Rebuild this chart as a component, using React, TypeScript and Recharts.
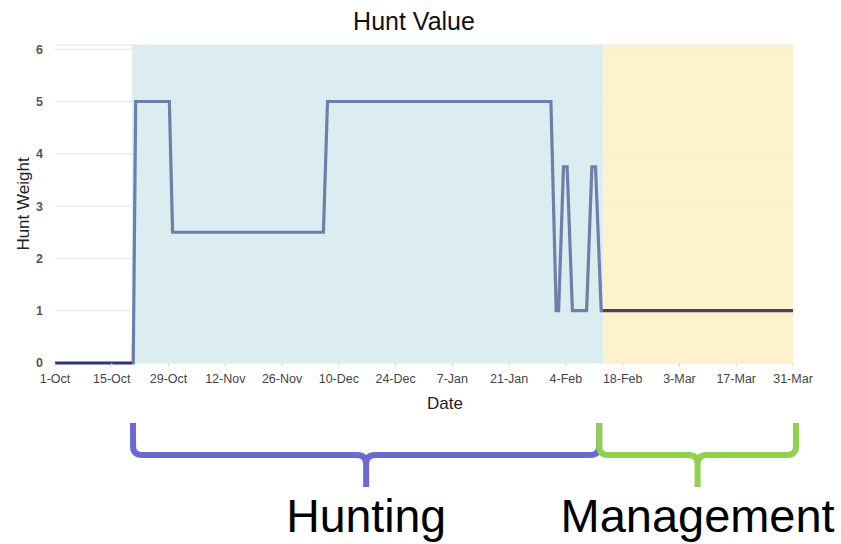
import { CartesianGrid, Line, LineChart, ReferenceArea, XAxis, YAxis } from "recharts";

const tickLabels = ["1-Oct", "15-Oct", "29-Oct", "12-Nov", "26-Nov", "10-Dec", "24-Dec", "7-Jan", "21-Jan", "4-Feb", "18-Feb", "3-Mar", "17-Mar", "31-Mar"];
const dayOffsets = [0, 19.3, 19.9, 28.2, 29, 66.2, 67.2, 122.3, 123.6, 124.2, 125.4, 126.3, 127.6, 131.1, 132.4, 133.3, 134.7, 182];
const huntWeights = [0, 0, 5, 5, 2.5, 2.5, 5, 5, 1, 1, 3.75, 3.75, 1, 1, 3.75, 3.75, 1, 1];
const weightTicks = [0, 1, 2, 3, 4, 5, 6];

const seasonNames = ["Hunting", "Management"];
const seasonStarts = [19, 135.2];
const seasonEnds = [135.2, 182];
const seasonFills = ["#d6eaee", "#feeec6"];
const braceColors = ["#6b6bcf", "#92d050"];

const data = dayOffsets.map((day, i) => ({ day, weight: huntWeights[i] }));

const W = 841;
const H = 544;
const CHART_H = 420;
const PLOT_LEFT = 55;
const PLOT_RIGHT = 793;
const LAST_DAY = 182;
const FONT = '"Liberation Sans", Arial, sans-serif';

// pixel position of a day along the x axis (same range as the chart plot area)
const xOf = (day: number) => PLOT_LEFT + (day / LAST_DAY) * (PLOT_RIGHT - PLOT_LEFT);

function bracePath(x1: number, x2: number) {
  const top = 423;
  const mid = 455;
  const tip = 487;
  const r = 9;
  const m = (x1 + x2) / 2;
  return [
    `M${x1} ${top}`,
    `L${x1} ${mid - r}`,
    `Q${x1} ${mid} ${x1 + r} ${mid}`,
    `L${m - r} ${mid}`,
    `Q${m} ${mid} ${m} ${mid + r}`,
    `L${m} ${tip}`,
    `L${m} ${mid + r}`,
    `Q${m} ${mid} ${m + r} ${mid}`,
    `L${x2 - r} ${mid}`,
    `Q${x2} ${mid} ${x2} ${mid - r}`,
    `L${x2} ${top}`,
  ].join(" ");
}

export default function App() {
  const braceSpans = [
    [xOf(seasonStarts[0]) + 1, xOf(seasonEnds[0]) - 4],
    [xOf(seasonStarts[1]) - 4, xOf(seasonEnds[1]) + 3],
  ];
  const textWidths = [160, 274];

  return (
    <div style={{ position: "absolute", left: 0, top: 0, width: W, height: H, background: "#fff", fontFamily: FONT }}>
      <LineChart width={W} height={CHART_H} data={data} margin={{ top: 45, right: W - PLOT_RIGHT, left: 0, bottom: 0 }}>
        <defs>
          <linearGradient id="huntStroke" x1="0" y1="0" x2="1" y2="0">
            <stop offset={seasonStarts[0] / LAST_DAY} stopColor="#2f3579" />
            <stop offset={seasonStarts[0] / LAST_DAY} stopColor="#6e7fa9" />
            <stop offset={seasonStarts[1] / LAST_DAY} stopColor="#6e7fa9" />
            <stop offset={seasonStarts[1] / LAST_DAY} stopColor="#4a3f62" />
          </linearGradient>
        </defs>
        <CartesianGrid vertical={false} stroke="#e3e3e3" />
        {seasonNames.map((name, i) => (
          <ReferenceArea key={name} x1={seasonStarts[i]} x2={seasonEnds[i]} y1={0} y2={6.08} fill={seasonFills[i]} fillOpacity={0.85} stroke="none" />
        ))}
        <XAxis
          dataKey="day"
          type="number"
          domain={[0, LAST_DAY]}
          ticks={tickLabels.map((_, i) => i * 14)}
          tickFormatter={(v) => tickLabels[Math.round(v / 14)]}
          tick={{ fontSize: 12.5, fill: "#444", fontFamily: FONT }}
          axisLine={false}
          tickLine={{ stroke: "#d8d8d8" }}
          tickSize={4}
          tickMargin={7}
          height={57}
          interval={0}
          label={{ value: "Date", position: "insideBottom", offset: 11, dx: 21, fontSize: 17, fill: "#222", fontFamily: FONT }}
        />
        <YAxis
          domain={[0, 6.08]}
          ticks={weightTicks}
          tick={{ fontSize: 12.5, fill: "#555", fontWeight: "bold", fontFamily: FONT }}
          axisLine={false}
          tickLine={false}
          tickSize={0}
          tickMargin={12}
          width={PLOT_LEFT}
          label={{ value: "Hunt Weight", angle: -90, position: "insideLeft", offset: 23, fontSize: 17, fill: "#222", fontFamily: FONT, style: { textAnchor: "middle" } }}
        />
        <Line type="linear" dataKey="weight" stroke="url(#huntStroke)" strokeWidth={3.2} dot={false} activeDot={false} isAnimationActive={false} />
      </LineChart>

      <svg width={W} height={H} style={{ position: "absolute", left: 0, top: 0, pointerEvents: "none" }}>
        <text x={414} y={30} textAnchor="middle" fontSize={25} fill="#111" fontFamily={FONT}>
          Hunt Value
        </text>
        {seasonNames.map((name, i) => {
          const [x1, x2] = braceSpans[i];
          const m = (x1 + x2) / 2;
          return (
            <g key={name}>
              <path d={bracePath(x1, x2)} fill="none" stroke={braceColors[i]} strokeWidth={6} />
              <text x={m} y={532} textAnchor="middle" fontSize={47} fill="#000" fontFamily={FONT} textLength={textWidths[i]} lengthAdjust="spacingAndGlyphs">
                {name}
              </text>
            </g>
          );
        })}
      </svg>
    </div>
  );
}
